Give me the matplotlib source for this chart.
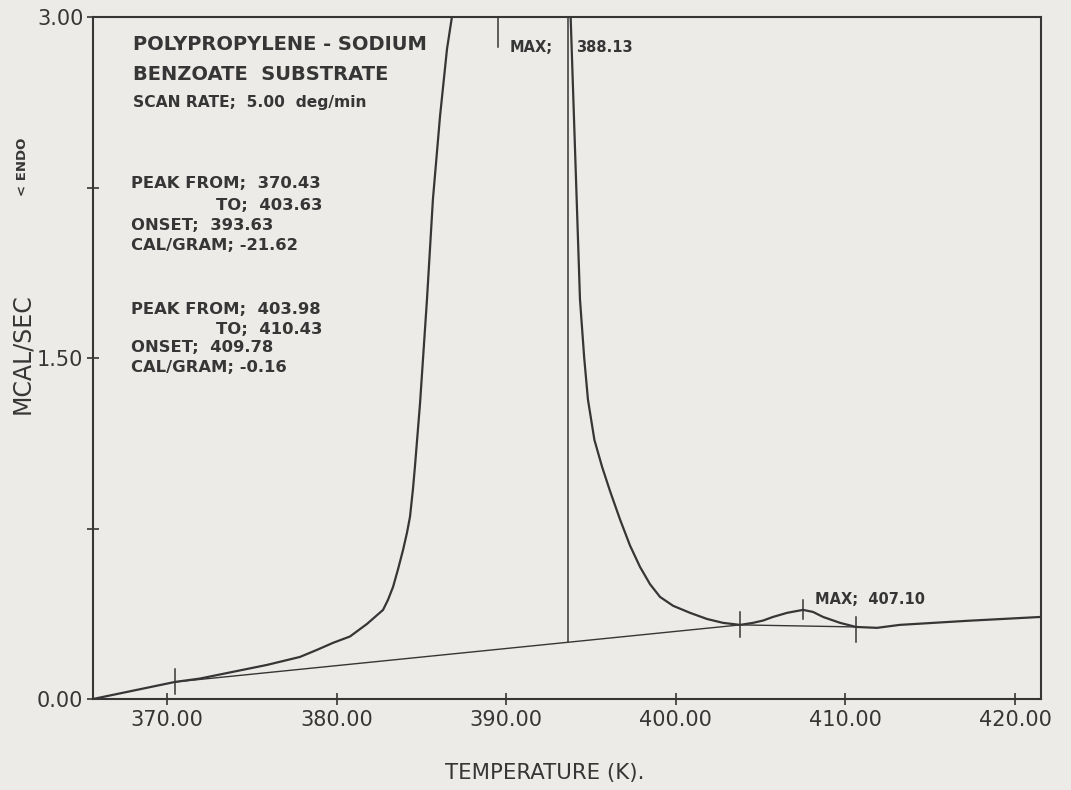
import numpy as np
import matplotlib
matplotlib.use("Agg")
import matplotlib.pyplot as plt

# DSC trace (temperature K, mcal/sec); peak top is off-scale
temp_rise = [365.64, 370.47, 371.95, 375.90, 377.84, 378.84, 379.79, 380.79,
             381.79, 382.74, 383.03, 383.33, 383.62, 383.92, 384.15, 384.33,
             384.50, 384.62, 384.92, 385.33, 385.68, 386.10, 386.51, 386.80]
flow_rise = [0.000, 0.075, 0.090, 0.150, 0.185, 0.216, 0.247, 0.275,
             0.330, 0.392, 0.436, 0.493, 0.570, 0.656, 0.731, 0.802,
             0.921, 1.022, 1.300, 1.758, 2.198, 2.564, 2.859, 3.000]
temp_fall = [393.80, 394.35, 394.60, 394.82, 395.20, 395.65, 396.12,
             396.71, 397.30, 397.89, 398.48, 399.07, 399.84, 400.84, 401.84,
             402.78, 403.79, 404.55, 405.14, 405.73, 406.56, 407.50, 408.09,
             408.68, 409.68, 410.62, 411.86, 413.20, 417.20, 421.53]
flow_fall = [3.000, 1.758, 1.500, 1.317, 1.140, 1.022, 0.915,
             0.790, 0.675, 0.581, 0.505, 0.449, 0.410, 0.379, 0.352,
             0.335, 0.326, 0.335, 0.345, 0.361, 0.379, 0.392, 0.383,
             0.361, 0.335, 0.317, 0.313, 0.326, 0.344, 0.361]

# integration baselines (from / to of each peak)
base1_t = [370.47, 403.79]
base1_y = [0.075, 0.326]
base2_t = [403.79, 410.62]
base2_y = [0.326, 0.317]

onset_t = 393.65
onset_base = 0.250
max1_t = 389.5       # tick under "MAX; 388.13" as placed on the chart
marks_t = [370.47, 403.79, 410.62]
marks_y = [0.077, 0.326, 0.306]
max2_t, max2_y = 407.50, 0.392

x_ticks = [370, 380, 390, 400, 410, 420]
y_ticks = [0.0, 0.75, 1.5, 2.25, 3.0]
y_labels = ["0.00", "", "1.50", "", "3.00"]

ink = "#363636"
paper = "#ecebe8"

fig = plt.figure(figsize=(10.71, 7.90), dpi=100, facecolor=paper)
ax = fig.add_axes([93 / 1071, 1 - 699 / 790, 948 / 1071, 682 / 790])
ax.set_facecolor(paper)

temp = temp_rise + [np.nan] + temp_fall
flow = flow_rise + [np.nan] + flow_fall
ax.plot(temp, flow, color=ink, lw=1.6, solid_joinstyle="round")
ax.plot(base1_t, base1_y, color=ink, lw=1.0)
ax.plot(base2_t, base2_y, color=ink, lw=1.0)
ax.plot([onset_t, onset_t], [onset_base, 3.0], color=ink, lw=1.1)
ax.plot([max1_t, max1_t], [3.0, 2.87], color=ink, lw=1.1)
for t, y in zip(marks_t, marks_y):
    ax.plot([t, t], [y - 0.055, y + 0.055], color=ink, lw=1.1)
ax.plot([max2_t, max2_t], [max2_y - 0.04, max2_y + 0.045], color=ink, lw=1.1)

ax.set_xlim(365.64, 421.53)
ax.set_ylim(0, 3.0)
ax.set_xticks(x_ticks)
ax.set_xticklabels([f"{v:.2f}" for v in x_ticks])
ax.set_yticks(y_ticks)
ax.set_yticklabels(y_labels)
ax.tick_params(direction="inout", length=8, width=1.2, colors=ink,
               labelsize=15, pad=3)
ax.tick_params(axis="x", pad=4)
for s in ax.spines.values():
    s.set_color(ink)
    s.set_linewidth(1.5)


def at(px, py, s, **kw):
    kw.setdefault("fontsize", 11.8)
    kw.setdefault("fontweight", "bold")
    fig.text(px / 1071, 1 - py / 790, s, color=ink, va="center", **kw)


at(133, 45, "POLYPROPYLENE - SODIUM", fontsize=14.0)
at(133, 75, "BENZOATE  SUBSTRATE", fontsize=14.0)
at(133, 103, "SCAN RATE;  5.00  deg/min", fontsize=11.2)

at(131, 184, "PEAK FROM;  370.43")
at(322, 205, "TO;  403.63", ha="right")
at(131, 225, "ONSET;  393.63")
at(131, 245, "CAL/GRAM; -21.62")
at(131, 310, "PEAK FROM;  403.98")
at(322, 330, "TO;  410.43", ha="right")
at(131, 347, "ONSET;  409.78")
at(131, 367, "CAL/GRAM; -0.16")

at(510, 48, "MAX;", fontsize=10.5)
at(576, 48, "388.13", fontsize=10.5)
at(815, 599, "MAX;  407.10", fontsize=10.5)

fig.text(545 / 1071, 1 - 773 / 790, "TEMPERATURE (K).", color=ink,
         fontsize=15.3, ha="center", va="center")
fig.text(22 / 1071, 1 - 354 / 790, "MCAL/SEC", color=ink, fontsize=17,
         rotation=90, ha="center", va="center")
fig.text(22 / 1071, 1 - 167 / 790, "< ENDO", color=ink, fontsize=9.5,
         fontweight="bold", rotation=90, ha="center", va="center")

fig.savefig("out.png", dpi=100, facecolor=paper)
